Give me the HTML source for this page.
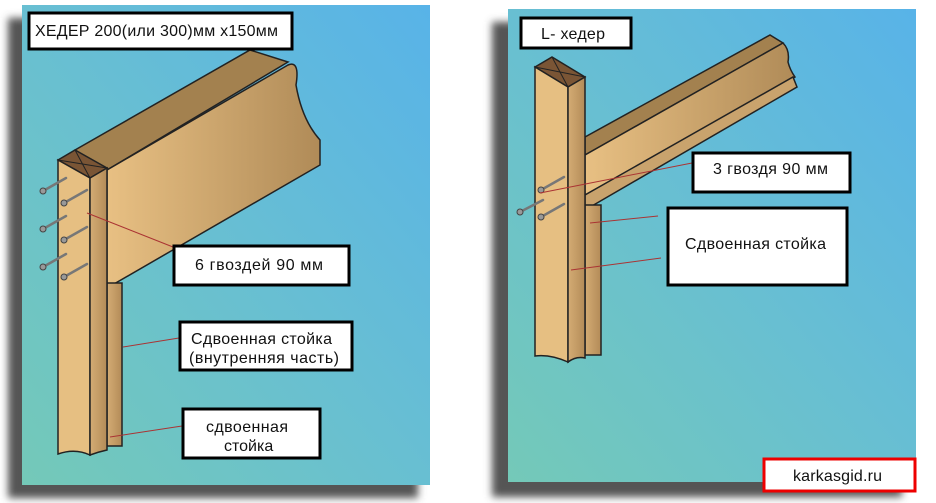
<!DOCTYPE html>
<html><head><style>html,body{margin:0;padding:0;background:#fff}svg{display:block}text{font-family:"Liberation Sans",sans-serif;fill:#111}</style></head><body>
<svg width="936" height="503" viewBox="0 0 936 503" xmlns="http://www.w3.org/2000/svg">
<defs>
<linearGradient id="bg" x1="0" y1="1" x2="1" y2="0"><stop offset="0" stop-color="#74c9b8"/><stop offset="0.5" stop-color="#68bfd2"/><stop offset="1" stop-color="#58b3e8"/></linearGradient>
<linearGradient id="wood" x1="0" y1="0" x2="1" y2="0"><stop offset="0" stop-color="#e8c083"/><stop offset="1" stop-color="#b08b58"/></linearGradient>
<linearGradient id="side" x1="0" y1="0" x2="1" y2="0"><stop offset="0" stop-color="#d4ac74"/><stop offset="1" stop-color="#b38b58"/></linearGradient>
<filter id="bl"><feGaussianBlur stdDeviation="4"/></filter>
</defs>
<rect x="8" y="18" width="410" height="480" fill="#555" filter="url(#bl)"/>
<rect x="492" y="22" width="410" height="475" fill="#555" filter="url(#bl)"/>
<rect x="22" y="5" width="408" height="480" fill="url(#bg)"/>
<rect x="508" y="9" width="408" height="473" fill="url(#bg)"/>

<!-- LEFT -->
<polygon points="75,150 250,50 288,62 107,170" fill="#a3814f" stroke="#222" stroke-width="1.5"/>
<path d="M107,170 L288,65 Q300,60 296,85 Q302,120 320,140 L320,165 L107,288 Z" fill="url(#wood)" stroke="#222" stroke-width="1.5"/>
<rect x="107" y="283" width="15" height="163" fill="url(#side)" stroke="#222" stroke-width="1.5"/>
<polygon points="58,160 75,150 107,168 90,178" fill="#7a5535" stroke="#222" stroke-width="1.5"/>
<line x1="75" y1="150" x2="90" y2="178" stroke="#222"/><line x1="58" y1="160" x2="107" y2="168" stroke="#222"/>
<path d="M58,160 L90,178 L90,455 Q75,448 58,454 Z" fill="#e6bf82" stroke="#222" stroke-width="1.5"/>
<path d="M90,178 L107,168 L107,450 Q98,452 90,455 Z" fill="url(#side)" stroke="#222" stroke-width="1.5"/>
<g stroke="#777" stroke-width="2.5" stroke-linecap="round">
<line x1="43" y1="191" x2="66" y2="178"/><line x1="64" y1="203" x2="87" y2="190"/>
<line x1="43" y1="229" x2="66" y2="216"/><line x1="64" y1="240" x2="87" y2="227"/>
<line x1="43" y1="267" x2="66" y2="254"/><line x1="64" y1="277" x2="87" y2="264"/>
</g>
<g fill="#999" stroke="#444"><circle cx="43" cy="191" r="3"/><circle cx="64" cy="203" r="3"/><circle cx="43" cy="229" r="3"/><circle cx="64" cy="240" r="3"/><circle cx="43" cy="267" r="3"/><circle cx="64" cy="277" r="3"/></g>
<g stroke="#a33" stroke-width="1"><line x1="87" y1="213" x2="173" y2="247"/><line x1="123" y1="347" x2="179" y2="338"/><line x1="110" y1="437" x2="182" y2="426"/></g>
<g stroke="#000" stroke-width="3" fill="#fff">
<rect x="29" y="13" width="263" height="36"/>
<rect x="174" y="246" width="175" height="39"/>
<rect x="180" y="322" width="172" height="48"/>
<rect x="183" y="409" width="137" height="49"/>
</g>
<text x="35" y="36" font-size="16" textLength="243">ХЕДЕР 200(или 300)мм х150мм</text>
<text x="195" y="270" font-size="16" textLength="128">6 гвоздей  90 мм</text>
<text x="191" y="344" font-size="16" textLength="141">Сдвоенная стойка</text>
<text x="189" y="363" font-size="16" textLength="150">(внутренняя часть)</text>
<text x="206" y="432" font-size="16" textLength="82">сдвоенная</text>
<text x="224" y="451" font-size="16">стойка</text>

<!-- RIGHT -->
<polygon points="585,137 770,35 783,43 585,155" fill="#a3814f" stroke="#222" stroke-width="1.5"/>
<path d="M585,155 L783,43 Q790,50 788,62 Q790,70 795,77 L585,195 Z" fill="url(#wood)" stroke="#222" stroke-width="1.5"/>
<polygon points="585,195 793,77 797,87 585,210" fill="#c9a36d" stroke="#222" stroke-width="1.5"/>
<rect x="585" y="205" width="16" height="150" fill="url(#side)" stroke="#222" stroke-width="1.5"/>
<polygon points="535,67 552,57 585,77 568,87" fill="#7a5535" stroke="#222" stroke-width="1.5"/>
<line x1="552" y1="57" x2="568" y2="87" stroke="#222"/><line x1="535" y1="67" x2="585" y2="77" stroke="#222"/>
<path d="M535,67 L568,87 L568,362 Q550,354 535,356 Z" fill="#e6bf82" stroke="#222" stroke-width="1.5"/>
<path d="M568,87 L585,77 L585,358 Q576,356 568,362 Z" fill="url(#side)" stroke="#222" stroke-width="1.5"/>
<g stroke="#777" stroke-width="2.5" stroke-linecap="round"><line x1="541" y1="190" x2="564" y2="177"/><line x1="520" y1="212" x2="543" y2="200"/><line x1="541" y1="217" x2="564" y2="204"/></g>
<g fill="#999" stroke="#444"><circle cx="541" cy="190" r="3"/><circle cx="520" cy="212" r="3"/><circle cx="541" cy="217" r="3"/></g>
<g stroke="#a33" stroke-width="1"><line x1="540" y1="193" x2="692" y2="163"/><line x1="590" y1="223" x2="658" y2="216"/><line x1="571" y1="270" x2="661" y2="258"/></g>
<g stroke="#000" stroke-width="3" fill="#fff">
<rect x="521" y="18" width="110" height="30"/>
<rect x="693" y="153" width="157" height="39"/>
<rect x="668" y="208" width="179" height="77"/>
</g>
<rect x="764" y="459" width="151" height="32" fill="#fff" stroke="#e00" stroke-width="3"/>
<text x="541" y="39" font-size="16" textLength="64">L- хедер</text>
<text x="713" y="174" font-size="16" textLength="115">3 гвоздя 90 мм</text>
<text x="685" y="249" font-size="16" textLength="141">Сдвоенная стойка</text>
<text x="793" y="481" font-size="16" textLength="89">karkasgid.ru</text>
</svg>
</body></html>
